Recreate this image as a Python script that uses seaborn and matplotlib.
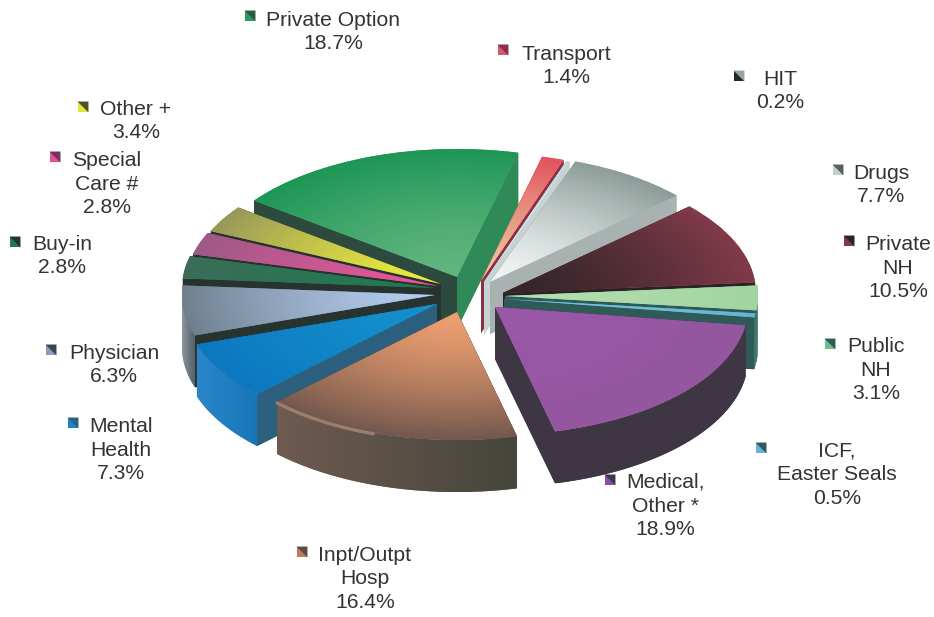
import numpy as np
import pandas as pd
import matplotlib
matplotlib.use('Agg')
import matplotlib.pyplot as plt
import seaborn as sns
from matplotlib.colors import LinearSegmentedColormap
from matplotlib.patches import Polygon

# --- data, clockwise from the Transport slice ---
categories = ['Transport', 'HIT', 'Drugs', 'Private\nNH', 'Public\nNH',
              'ICF,\nEaster Seals', 'Medical,\nOther *', 'Inpt/Outpt\nHosp',
              'Mental\nHealth', 'Physician', 'Buy-in', 'Special\nCare #',
              'Other +', 'Private Option']
shares = [1.4, 0.2, 7.7, 10.5, 3.1, 0.5, 18.9, 16.4, 7.3, 6.3, 2.8, 2.8, 3.4, 18.7]

# --- look of the slices: tip colour, outer colour, rim, two cut faces ---
top_inner = ['#ecc79a', '#e4eeee', '#f2f5f5', '#33252a', '#b4dfae', '#7cc6de', '#9a58a8', '#ee9f70',
             '#1590cc', '#b4cdf0', '#1f7a50', '#e8559a', '#ecec3c', '#62b680']
top_outer = ['#e2505e', '#c0d8d8', '#8c9c98', '#823a4a', '#a0d4a0', '#62b4d2', '#94569f', '#74584e',
             '#0c78c0', '#70808f', '#3c6c58', '#9c5a86', '#98985a', '#1d9655']
rim_left = ['#8a3048', '#9ab4b4', '#9aa6a4', '#2c2226', '#3c6e72', '#3c6e72', '#3f3644', '#6e5a50',
            '#2a86c8', '#8a949c', '#2b3a34', '#2b3a34', '#2b3a34', '#2a6e4a']
rim_right = ['#8a3048', '#9ab4b4', '#9aa6a4', '#2c2226', '#5c9a88', '#5c9a88', '#3f3644', '#46463c',
             '#1876b8', '#566068', '#2b3a34', '#2b3a34', '#2b3a34', '#2a6e4a']
face_a = ['#8a3048', '#c4d4d4', '#a8b2b0', '#2c2226', '#2f5a58', '#2f5a58', '#3f3644', '#5a4c44',
          '#2d5f7e', '#26332f', '#26332f', '#26332f', '#26332f', '#2f8a58']
face_b = ['#8a3048', '#c4d4d4', '#a8b2b0', '#2c2226', '#2f5a58', '#2f5a58', '#3f3644', '#5a4c44',
          '#2d5f7e', '#26332f', '#26332f', '#26332f', '#26332f', '#2c4a3e']
# painting order, back to front
draw_order = [13, 12, 11, 10, 9, 0, 1, 2, 3, 4, 5, 6, 8, 7]

# --- where things go, in image pixels ---
W, H = 934, 617
SQUASH = 0.506
RADIUS = 253
DEPTH = 52
tip_x = [481, 484, 490, 503, 505, 504, 495, 457, 437, 435, 435, 438, 441, 457]
tip_y = [281, 282, 282, 293, 296, 299, 307, 312, 304, 295, 288, 286, 284, 277]
label_x = [566, 780, 881, 898, 876, 837, 665, 365, 121, 114, 62, 107, 136, 333]
label_y = [66, 91, 185, 268, 370, 475, 506, 579, 450, 365, 256, 184, 121, 32]
mark_x = [503, 739, 838, 849, 830, 761, 610, 302, 73, 51, 15, 55, 83, 250]
mark_y = [50, 76, 170, 241, 344, 448, 480, 552, 423, 350, 242, 157, 107, 16]
mark_col = ['#d8566a', '#22282a', '#c4d0cc', '#7e3a48', '#6cc090', '#62b4d8', '#8c4ca0', '#c07a5c',
            '#1a86c8', '#8c9cb8', '#1f7a50', '#e0508f', '#e4e43c', '#2a9a60']
mark_dark = ['#8a3048', '#9aa4a4', '#56605c', '#2c2226', '#2f5a58', '#2f5a58', '#3f3644', '#5a4c44',
             '#2d5f7e', '#3c4650', '#26332f', '#7a3060', '#50502a', '#2c5a44']


def to_y(y):
    return (H - y) / SQUASH


def paint(ax, verts, col_a, col_b, z):
    # flat polygon with a left to right shade, clipped image on top
    verts = np.asarray(verts)
    poly = Polygon(verts, closed=True, facecolor=col_a, edgecolor='none', zorder=z)
    ax.add_patch(poly)
    x0, x1 = verts[:, 0].min(), verts[:, 0].max()
    y0, y1 = verts[:, 1].min(), verts[:, 1].max()
    cmap = LinearSegmentedColormap.from_list('side', [col_a, col_b])
    im = ax.imshow(np.linspace(0, 1, 64).reshape(1, -1), cmap=cmap, aspect='auto',
                   extent=(x0, x1, y0, y1), origin='lower', zorder=z)
    im.set_clip_path(poly)


def extrude(ax, wedge, i, z):
    cx, cy = wedge.center
    drop = DEPTH / SQUASH
    faces = []
    for ang, col in ((wedge.theta1, face_a[i]), (wedge.theta2, face_b[i])):
        a = np.radians(ang)
        px, py = cx + RADIUS * np.cos(a), cy + RADIUS * np.sin(a)
        quad = [(cx, cy), (px, py), (px, py - drop), (cx, cy - drop)]
        faces.append((py, quad, col))
    # the higher face is further back
    faces.sort(key=lambda f: -f[0])
    for k, (_, quad, col) in enumerate(faces):
        paint(ax, quad, col, col, z + k * 0.1)

    # rim: only the part of the arc in the lower half of the ellipse shows
    th = np.linspace(wedge.theta1, wedge.theta2, 120)
    th = np.mod(th, 360)
    th = th[th >= 180]
    if len(th) > 1:
        th = np.sort(th)
        xs = cx + RADIUS * np.cos(np.radians(th))
        ys = cy + RADIUS * np.sin(np.radians(th))
        upper = np.column_stack([xs, ys])
        lower = np.column_stack([xs, ys - drop])[::-1]
        paint(ax, np.vstack([upper, lower]), rim_left[i], rim_right[i], z + 0.3)


def shade_top(ax, wedge, i, z):
    cx, cy = wedge.center
    gx = np.linspace(cx - RADIUS, cx + RADIUS, 300)
    gy = np.linspace(cy - RADIUS, cy + RADIUS, 300)
    mx, my = np.meshgrid(gx, gy)
    dist = np.clip(np.hypot(mx - cx, my - cy) / RADIUS, 0, 1) ** 1.4
    cmap = LinearSegmentedColormap.from_list('top', [top_inner[i], top_outer[i]])
    im = ax.imshow(dist, cmap=cmap, aspect='auto', origin='lower', vmin=0, vmax=1,
                   extent=(gx[0], gx[-1], gy[0], gy[-1]), zorder=z)
    im.set_clip_path(wedge)


sns.set_theme(style='white')
plt.rcParams['font.family'] = ['Liberation Sans', 'DejaVu Sans']

fig = plt.figure(figsize=(W / 100, H / 100), dpi=100, facecolor='white')
ax = fig.add_axes([0, 0, 1, 1])

# startangle 76 puts the Transport slice 14 degrees right of twelve o'clock
wedges, _ = ax.pie(shares, startangle=76, counterclock=False, radius=RADIUS,
                   colors=top_outer, wedgeprops={'linewidth': 0})

for order, i in enumerate(draw_order):
    w = wedges[i]
    w.set_center((tip_x[i], to_y(tip_y[i])))
    z = 2 + order
    extrude(ax, w, i, z)
    w.set_zorder(z + 0.5)
    shade_top(ax, w, i, z + 0.6)

# pale lip on the left of the hospital slice rim
hosp = wedges[7]
lip = np.radians(np.linspace(hosp.theta1, hosp.theta1 + 26, 40))
ax.plot(hosp.center[0] + RADIUS * np.cos(lip), hosp.center[1] + RADIUS * np.sin(lip) - 2,
        color='#a88876', lw=2.4, alpha=0.8, solid_capstyle='round', zorder=20)

# legend style markers, dark corner on the upper right
markers = pd.DataFrame({'x': mark_x, 'y': [to_y(v) for v in mark_y]})
corner = [(-1, 1), (1, 1), (1, -1), (-1, 1)]
sns.scatterplot(data=markers, x='x', y='y', marker='s', s=62, c=mark_col,
                linewidth=0, legend=False, ax=ax, zorder=30)
sns.scatterplot(data=markers, x='x', y='y', marker=corner, s=62, c=mark_dark,
                linewidth=0, legend=False, ax=ax, zorder=31)

for name, val, x, y in zip(categories, shares, label_x, label_y):
    ax.text(x, to_y(y), f'{name}\n{val}%', ha='center', va='center', fontsize=15.2,
            linespacing=1.32, color='#333333', zorder=40)

ax.set_aspect('auto')
ax.set_xlim(0, W)
ax.set_ylim(0, H / SQUASH)
ax.set_xlabel('')
ax.set_ylabel('')
ax.axis('off')

fig.savefig('out.png', dpi=100, facecolor='white')
